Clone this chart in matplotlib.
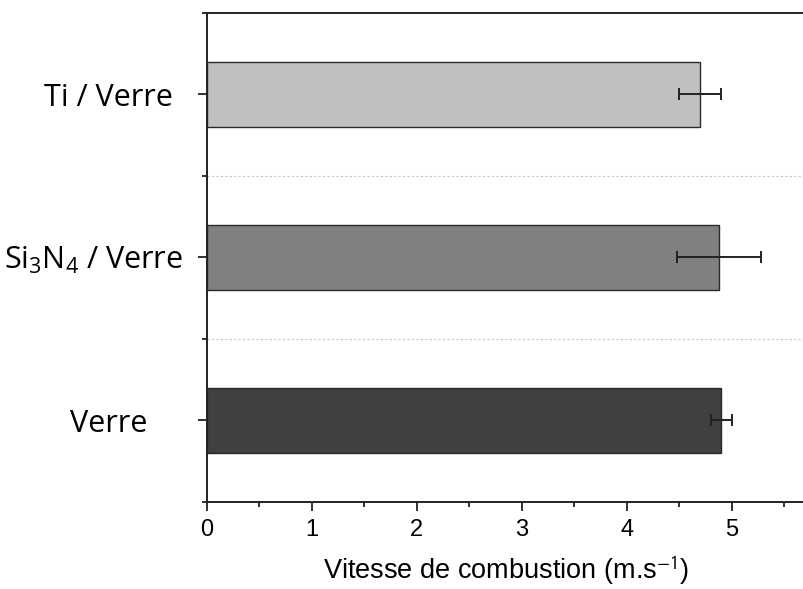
import matplotlib
matplotlib.use("Agg")
import matplotlib.pyplot as plt
from matplotlib.ticker import MultipleLocator, FixedLocator
from matplotlib.transforms import ScaledTranslation

plt.rcParams['mathtext.fontset'] = 'custom'
plt.rcParams['mathtext.rm'] = 'Open Sans'

categories = ["Verre", "Si$\\mathrm{_3}$N$\\mathrm{_4}$ / Verre", "Ti / Verre"]
values = [4.90, 4.88, 4.70]
errors = [0.10, 0.40, 0.20]
colors = ["#404040", "#808080", "#c0c0c0"]
xticks = [0, 1, 2, 3, 4, 5]
label_right_px = [147, 183, 173]

fig = plt.figure(figsize=(8.04, 5.89), dpi=100)
left_px = 207
ax = fig.add_axes([left_px/804, 1 - 501.5/589, 1 - left_px/804, (501.5 - 13)/589])

ypos = list(range(len(categories)))
ax.barh(ypos, values, height=0.4, color=colors, edgecolor="#2a2a2a", linewidth=1.0, zorder=2)
ax.errorbar(values, ypos, xerr=errors, fmt="none", ecolor="#222222", elinewidth=1.4,
            capsize=4, capthick=1.4, zorder=3)

ax.set_xlim(0, 5.69)
ax.set_ylim(-0.5, 2.5)

ax.set_yticks(ypos)
ax.set_yticklabels([])
trans_y = ax.get_yaxis_transform()
for yv, txt, rpx in zip(ypos, categories, label_right_px):
    tr = trans_y + ScaledTranslation((rpx - left_px) / 100, 0, fig.dpi_scale_trans)
    ax.text(0, yv, txt, transform=tr, ha="right", va="center_baseline",
            fontfamily="Open Sans", fontsize=22, clip_on=False)
ax.yaxis.set_minor_locator(FixedLocator([-0.5, 0.5, 1.5, 2.5]))
for yv in [0.5, 1.5]:
    ax.axhline(yv, color="#c8c8c8", linestyle=(0, (2, 2)), linewidth=0.8, zorder=1)

ax.set_xticks(xticks)
ax.set_xticklabels([str(t) for t in xticks], fontfamily="Liberation Sans", fontsize=17)
ax.xaxis.set_minor_locator(MultipleLocator(0.5))

ax.tick_params(axis="both", which="major", direction="out", length=6.5, width=1.3, color="#222222")
ax.tick_params(axis="both", which="minor", direction="out", length=3.5, width=1.3, color="#222222")
ax.tick_params(axis="x", pad=6)

for s in ["left", "bottom", "top"]:
    ax.spines[s].set_linewidth(1.4)
    ax.spines[s].set_color("#222222")
ax.spines["right"].set_visible(False)

ax.set_xlabel("Vitesse de combustion (m.s$^{\\mathsf{-1}}$)", fontfamily="Liberation Sans",
              fontsize=19.5, labelpad=9, math_fontfamily="stixsans")

fig.savefig("out.png", dpi=100)
